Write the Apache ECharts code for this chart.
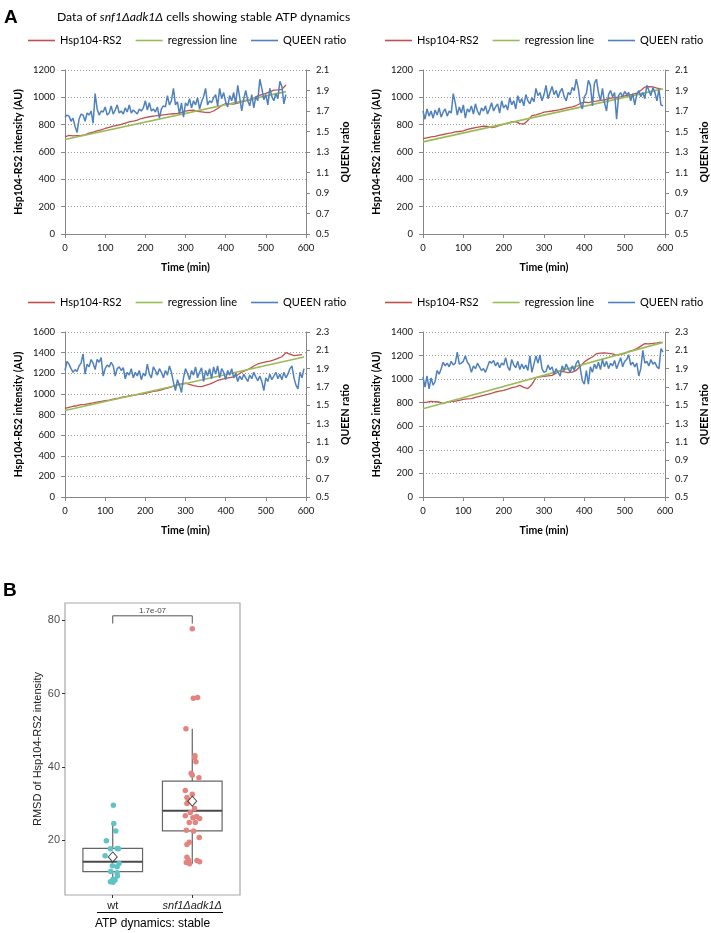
<!DOCTYPE html>
<html><head><meta charset="utf-8">
<script src="https://cdn.jsdelivr.net/npm/echarts@6/dist/echarts.min.js"></script>
<style>html,body{margin:0;padding:0;background:#fff}#c{width:711px;height:933px}</style>
</head><body><div id="c"></div>
<script>
// ---------- Panel A data ----------
const STEP_Q = 5;   // QUEEN ratio sampled every 5 min
const STEP_H = 10;  // Hsp104-RS2 sampled every 10 min
const timeTicks = [0, 100, 200, 300, 400, 500, 600];
const rightTicksTop = [0.5, 0.7, 0.9, 1.1, 1.3, 1.5, 1.7, 1.9, 2.1];
const rightTicksBottom = [0.5, 0.7, 0.9, 1.1, 1.3, 1.5, 1.7, 1.9, 2.1, 2.3];
const legendNames = ['Hsp104-RS2', 'regression line', 'QUEEN ratio'];

const tlQueen = [1.64,1.66,1.65,1.60,1.63,1.55,1.49,1.62,1.67,1.66,
  1.60,1.68,1.66,1.70,1.58,1.87,1.72,1.66,1.70,1.69,
  1.74,1.66,1.68,1.75,1.67,1.71,1.76,1.68,1.70,1.67,
  1.73,1.69,1.76,1.68,1.71,1.69,1.67,1.72,1.70,1.73,
  1.80,1.71,1.78,1.70,1.72,1.69,1.74,1.63,1.72,1.75,
  1.74,1.85,1.76,1.80,1.92,1.76,1.79,1.67,1.78,1.64,
  1.78,1.75,1.82,1.73,1.80,1.76,1.83,1.72,1.79,1.84,
  1.92,1.76,1.80,1.78,1.83,1.86,1.75,1.92,1.82,1.88,
  1.79,1.74,1.85,1.80,1.88,1.77,1.95,1.83,1.70,1.82,
  1.90,1.80,1.75,1.86,1.73,1.84,1.80,2.01,1.92,1.81,
  1.86,1.76,1.92,1.84,1.80,1.87,1.82,1.99,1.94,1.77,1.86];
const tlHsp = [710,722,718,720,722,725,738,745,755,762,772,780,789,795,803,812,820,826,833,845,
  852,858,862,866,870,874,877,880,882,890,899,904,906,898,894,890,889,900,918,940,
  955,952,950,958,967,975,980,995,1011,1020,1029,1040,1053,1055,1058,1090];
const tlRegT = [0, 550], tlRegV = [691, 1042];

const trQueen = [1.70,1.62,1.72,1.65,1.70,1.63,1.71,1.66,1.73,1.64,
  1.69,1.72,1.65,1.70,1.68,1.87,1.78,1.66,1.74,1.68,
  1.76,1.63,1.72,1.69,1.75,1.67,1.77,1.70,1.66,1.73,
  1.70,1.75,1.67,1.72,1.78,1.70,1.74,1.77,1.68,1.80,
  1.73,1.76,1.71,1.83,1.76,1.80,1.72,1.85,1.78,1.82,
  1.75,1.86,1.80,1.77,1.83,1.79,1.92,1.85,1.88,1.80,
  1.86,1.95,1.82,1.88,1.94,1.86,1.90,1.83,1.89,1.92,
  1.84,1.80,1.88,1.86,1.93,1.90,2.01,1.92,1.78,1.72,
  1.84,1.87,2.00,1.95,1.75,1.97,2.01,1.88,1.80,1.92,
  1.78,1.70,1.86,1.90,1.84,1.88,1.62,1.85,1.88,1.84,
  1.89,1.86,1.88,1.80,1.87,1.76,1.86,1.90,1.84,1.88,
  1.82,1.95,1.90,1.85,1.93,1.88,1.80,1.91,1.76,1.75];
const trHsp = [698,704,710,715,722,728,735,740,747,750,755,765,772,778,784,790,787,778,784,795,
  803,812,820,822,808,805,830,866,872,880,892,896,900,905,910,918,925,930,940,955,
  965,962,968,972,978,982,990,996,1000,1004,1010,1016,1022,1030,1050,1075,1078,1076,1068,1062];
const trRegT = [0, 595], trRegV = [674, 1062];

const blQueen = [1.88,1.98,1.95,1.90,1.86,1.89,1.87,1.93,1.96,2.06,
  1.84,1.95,1.92,2.00,1.96,1.89,2.00,1.97,2.02,1.82,
  1.90,1.94,1.92,1.97,1.93,1.82,1.90,1.92,1.88,1.91,
  1.79,1.86,1.83,1.90,1.80,1.86,1.82,1.88,1.78,1.85,
  1.82,1.95,1.84,1.80,1.92,1.88,1.83,1.90,1.86,1.80,
  1.88,1.83,1.93,1.86,1.75,1.66,1.78,1.72,1.64,1.80,
  1.90,1.85,1.78,1.88,1.83,1.92,1.80,1.86,1.91,1.76,
  1.88,1.82,1.90,1.79,1.92,1.84,1.93,1.80,1.90,1.86,
  1.78,1.88,1.83,1.90,1.80,1.85,1.76,1.82,1.78,1.84,
  1.80,1.76,1.83,1.79,1.86,1.81,1.77,1.82,1.76,1.66,
  1.80,1.76,1.84,1.78,1.82,1.86,1.79,1.84,1.78,1.86,
  1.80,1.84,1.90,1.93,1.80,1.72,1.68,1.86,1.80,1.90];
const blHsp = [860,868,880,885,895,898,905,912,920,926,935,940,950,955,965,972,980,985,992,998,
  1005,1015,1025,1030,1040,1050,1060,1075,1090,1098,1105,1092,1080,1072,1070,1082,1095,1112,1130,1140,
  1150,1158,1165,1185,1210,1228,1245,1270,1290,1300,1310,1318,1330,1345,1360,1400,1385,1370,1375,1380];
const blRegT = [0, 595], blRegV = [839, 1358];

const brQueen = [1.81,1.70,1.82,1.68,1.80,1.72,1.76,1.88,1.84,1.90,
  1.97,1.93,1.96,1.92,1.98,1.94,1.96,2.08,1.95,1.96,
  1.98,2.04,1.97,1.94,1.86,1.93,1.90,1.96,1.92,1.88,
  1.90,1.86,1.92,1.98,1.96,1.99,1.93,1.97,1.91,1.96,
  1.94,2.02,1.92,1.88,2.00,1.94,1.91,1.98,1.89,1.95,
  1.90,1.94,1.88,2.04,1.86,1.95,2.04,1.96,2.05,1.90,
  1.86,1.87,1.94,1.89,1.92,1.84,1.90,1.86,1.82,1.93,
  1.88,1.95,1.90,1.86,1.93,1.88,1.96,1.99,1.90,1.77,
  1.73,1.88,1.73,1.92,1.86,1.95,1.90,1.97,1.89,2.00,
  1.92,1.98,1.90,1.96,1.93,1.99,1.90,1.96,2.02,1.92,
  1.98,2.00,2.05,1.94,1.97,1.92,1.96,1.82,1.90,2.10,
  1.96,1.98,1.93,2.00,1.95,1.97,1.92,1.90,2.12,2.08];
const brHsp = [800,805,812,808,806,792,806,810,814,820,829,832,834,845,854,862,871,880,891,898,
  905,915,928,935,947,930,920,955,1012,1020,1024,1028,1032,1050,1069,1062,1055,1060,1075,1110,
  1145,1170,1188,1216,1220,1222,1218,1214,1202,1210,1216,1235,1244,1259,1280,1301,1300,1303,1307,1315];
const brRegT = [0, 595], brRegV = [748, 1312];

// ---------- Panel B data ----------
const groupPos = [1, 2];
const groupLabels = ['wt', 'snf1Δadk1Δ'];
const boxLow = [8.5, 13.5];
const boxQ1 = [11.4, 22.5];
const boxMed = [14.1, 28.0];
const boxQ3 = [17.7, 36.1];
const boxHigh = [24.5, 50.4];
const groupMean = [15.4, 30.6];
const wtX = [1.008,1.013,1.038,0.920,0.971,1.055,1.071,0.904,1.080,0.996,1.055,0.975,1.055,1.059,1.004,0.971,1.004,1.029];
const wtY = [29.5,24.5,22.5,19.8,17.6,17.7,17.6,15.7,13.6,13.0,12.7,11.4,11.1,10.2,9.3,8.6,8.5,9.1];
const snfX = [2.000,2.013,2.067,1.920,2.034,2.029,2.046,1.987,2.000,2.084,1.912,2.000,1.933,1.933,1.950,2.029,1.975,1.912,2.055,2.008,2.092,1.962,2.038,1.925,2.017,2.088,1.962,1.933,1.933,1.954,1.925,1.966,2.059,2.092];
const snfY = [77.7,58.7,58.9,50.4,43.0,42.5,41.4,38.2,37.7,37.0,33.5,32.5,31.6,30.0,30.9,28.6,27.5,26.6,26.4,26.1,25.9,24.8,24.8,22.7,22.5,20.7,19.4,18.8,15.3,14.5,13.9,13.5,14.4,14.1];
const yTicksB = [20, 40, 60, 80];
const bracketY = 81.2, bracketTickY = 79.1, bracketLabel = '1.7e-07';

// ---------- build ----------
const FONT = 'Lato';
const AXC = '#868686';
const panels = [
  {q: tlQueen, h: tlHsp, rt: tlRegT, rv: tlRegV, lmax: 1200, rTicks: rightTicksTop,
   grid: {left: 65, top: 70, width: 241, height: 164}, lg: {left: 28, top: 35}},
  {q: trQueen, h: trHsp, rt: trRegT, rv: trRegV, lmax: 1200, rTicks: rightTicksTop,
   grid: {left: 423, top: 70, width: 242, height: 164}, lg: {left: 385, top: 35}},
  {q: blQueen, h: blHsp, rt: blRegT, rv: blRegV, lmax: 1600, rTicks: rightTicksBottom,
   grid: {left: 65, top: 332, width: 241, height: 165}, lg: {left: 28, top: 297}},
  {q: brQueen, h: brHsp, rt: brRegT, rv: brRegV, lmax: 1400, rTicks: rightTicksBottom,
   grid: {left: 423, top: 332, width: 242, height: 165}, lg: {left: 385, top: 297}}
];
const colors = {'Hsp104-RS2': '#C0504D', 'regression line': '#9BBB59', 'QUEEN ratio': '#4F81BD'};

const grids = [], xAxes = [], yAxes = [], series = [], legends = [];
panels.forEach((p, i) => {
  grids.push(Object.assign({containLabel: false}, p.grid));
  xAxes.push({type: 'value', gridIndex: i, min: timeTicks[0], max: timeTicks[timeTicks.length - 1], interval: 100,
    axisLine: {show: true, lineStyle: {color: AXC, width: 1}},
    axisTick: {show: true, length: 4, lineStyle: {color: AXC}},
    axisLabel: {fontFamily: FONT, fontSize: 9.5, color: '#111', margin: 9, formatter: v => String(v)},
    splitLine: {show: false},
    name: 'Time (min)', nameLocation: 'middle', nameGap: 28,
    nameTextStyle: {fontFamily: FONT, fontSize: 10.5, fontWeight: 'bold', color: '#000'}});
  yAxes.push({type: 'value', gridIndex: i, position: 'left', min: 0, max: p.lmax, interval: 200,
    axisLine: {show: true, lineStyle: {color: AXC, width: 1}},
    axisTick: {show: true, length: 4, lineStyle: {color: AXC}},
    axisLabel: {fontFamily: FONT, fontSize: 9.5, color: '#111', margin: 10, formatter: v => String(v)},
    splitLine: {show: true, lineStyle: {type: [1, 2], color: '#9a9a9a', width: 1}},
    name: 'Hsp104-RS2 intensity (AU)', nameLocation: 'middle', nameGap: 41,
    nameTextStyle: {fontFamily: FONT, fontSize: 10.5, fontWeight: 'bold', color: '#000'}});
  yAxes.push({type: 'value', gridIndex: i, position: 'right', min: p.rTicks[0], max: p.rTicks[p.rTicks.length - 1],
    axisLine: {show: true, lineStyle: {color: AXC, width: 1}},
    axisTick: {show: true, length: 4, lineStyle: {color: AXC}, customValues: p.rTicks},
    axisLabel: {fontFamily: FONT, fontSize: 9.5, color: '#111', margin: 10, customValues: p.rTicks,
      formatter: v => Number(v).toFixed(1)},
    splitLine: {show: false},
    name: 'QUEEN ratio', nameLocation: 'middle', nameGap: 34,
    nameTextStyle: {fontFamily: FONT, fontSize: 10.5, fontWeight: 'bold', color: '#000'}});
  series.push({type: 'line', name: 'Hsp104-RS2', xAxisIndex: i, yAxisIndex: 2 * i,
    data: p.h.map((v, k) => [k * STEP_H, v]), symbol: 'none',
    lineStyle: {color: colors['Hsp104-RS2'], width: 1.3}, itemStyle: {color: colors['Hsp104-RS2']}, z: 2});
  series.push({type: 'line', name: 'regression line', xAxisIndex: i, yAxisIndex: 2 * i,
    data: p.rt.map((t, k) => [t, p.rv[k]]), symbol: 'none',
    lineStyle: {color: colors['regression line'], width: 1.6}, itemStyle: {color: colors['regression line']}, z: 3});
  series.push({type: 'line', name: 'QUEEN ratio', xAxisIndex: i, yAxisIndex: 2 * i + 1,
    data: p.q.map((v, k) => [k * STEP_Q, v]), symbol: 'none',
    lineStyle: {color: colors['QUEEN ratio'], width: 1.5}, itemStyle: {color: colors['QUEEN ratio']}, z: 4});
  legends.push({left: p.lg.left, top: p.lg.top, padding: 0, itemGap: 14, itemWidth: 27, itemHeight: 1.6,
    selectedMode: false, icon: 'rect',
    data: legendNames.map(n => ({name: n, icon: 'rect', itemStyle: {color: colors[n], borderWidth: 0}})),
    textStyle: {fontFamily: FONT, fontSize: 11, color: '#000'}});
});

// Panel B
const BF = 'Liberation Sans';
grids.push({left: 65, top: 603, width: 175, height: 292, show: true, borderColor: '#a8a8a8', borderWidth: 1.2, backgroundColor: '#fff'});
xAxes.push({type: 'value', gridIndex: 4, min: 0.4, max: 2.6,
  axisLine: {show: false}, splitLine: {show: false},
  axisTick: {show: true, length: 3, customValues: groupPos, lineStyle: {color: '#333'}},
  axisLabel: {customValues: groupPos, margin: 5, fontFamily: BF, fontSize: 11, color: '#1a1a1a',
    formatter: v => { const k = groupPos.indexOf(v); return k === 1 ? '{i|' + groupLabels[1] + '}' : groupLabels[0]; },
    rich: {i: {fontStyle: 'italic', fontFamily: BF, fontSize: 11, color: '#1a1a1a'}}},
  name: 'ATP dynamics: stable', nameLocation: 'middle', nameGap: 23,
  nameTextStyle: {fontFamily: BF, fontSize: 12, color: '#000'}});
yAxes.push({type: 'value', gridIndex: 4, min: 5, max: 84.7,
  axisLine: {show: false}, splitLine: {show: false},
  axisTick: {show: true, length: 3, customValues: yTicksB, lineStyle: {color: '#333'}},
  axisLabel: {customValues: yTicksB, margin: 5, fontFamily: BF, fontSize: 11, color: '#4d4d4d'},
  name: 'RMSD of Hsp104-RS2 intensity', nameLocation: 'middle', nameGap: 18,
  nameTextStyle: {fontFamily: BF, fontSize: 11, color: '#222'}});

series.push({type: 'custom', xAxisIndex: 4, yAxisIndex: 8, z: 2,
  data: groupPos.map((x, k) => [x, boxLow[k], boxQ1[k], boxMed[k], boxQ3[k], boxHigh[k]]),
  renderItem: (params, api) => {
    const x = api.value(0), half = 0.375;
    const lo = api.coord([x, api.value(1)]), q1 = api.coord([x, api.value(2)]);
    const med = api.coord([x, api.value(3)]), q3 = api.coord([x, api.value(4)]);
    const hi = api.coord([x, api.value(5)]);
    const l = api.coord([x - half, 0])[0], r = api.coord([x + half, 0])[0];
    const st = {stroke: '#666', lineWidth: 1.2, fill: null};
    return {type: 'group', children: [
      {type: 'line', shape: {x1: hi[0], y1: hi[1], x2: q3[0], y2: q3[1]}, style: st},
      {type: 'line', shape: {x1: q1[0], y1: q1[1], x2: lo[0], y2: lo[1]}, style: st},
      {type: 'rect', shape: {x: l, y: q3[1], width: r - l, height: q1[1] - q3[1]}, style: st},
      {type: 'line', shape: {x1: l, y1: med[1], x2: r, y2: med[1]}, style: {stroke: '#4a4a4a', lineWidth: 2}}
    ]};
  }});
series.push({type: 'scatter', xAxisIndex: 4, yAxisIndex: 8, z: 3, symbolSize: 5.5,
  data: wtX.map((x, k) => [x, wtY[k]]), itemStyle: {color: '#5fc3c8', opacity: 1}});
series.push({type: 'scatter', xAxisIndex: 4, yAxisIndex: 8, z: 3, symbolSize: 5.5,
  data: snfX.map((x, k) => [x, snfY[k]]), itemStyle: {color: '#e5847e', opacity: 1}});
series.push({type: 'scatter', xAxisIndex: 4, yAxisIndex: 8, z: 4, symbol: 'diamond', symbolSize: [9, 10],
  data: groupPos.map((x, k) => [x, groupMean[k]]),
  itemStyle: {color: '#fff', borderColor: '#222', borderWidth: 1}});
series.push({type: 'custom', xAxisIndex: 4, yAxisIndex: 8, z: 5,
  data: [[groupPos[0], groupPos[1], bracketY, bracketTickY]],
  renderItem: (params, api) => {
    const a = api.coord([api.value(0), api.value(3)]), b = api.coord([api.value(0), api.value(2)]);
    const c = api.coord([api.value(1), api.value(2)]), d = api.coord([api.value(1), api.value(3)]);
    return {type: 'group', children: [
      {type: 'polyline', shape: {points: [a, b, c, d]}, style: {stroke: '#555', lineWidth: 1, fill: null}},
      {type: 'text', x: (b[0] + c[0]) / 2, y: b[1] - 1.5,
        style: {text: bracketLabel, fontFamily: BF, fontSize: 8, fill: '#444', align: 'center', verticalAlign: 'bottom'}}
    ]};
  }});

const chart = echarts.init(document.getElementById('c'), null, {renderer: 'canvas'});
chart.setOption({
  animation: false,
  backgroundColor: '#fff',
  title: [
    {text: 'A', left: 4, top: 8, padding: 0, textStyle: {fontFamily: BF, fontSize: 19, fontWeight: 'bold', color: '#000'}},
    {text: 'Data of {i|snf1Δadk1Δ} cells showing stable ATP dynamics', left: 57, top: 11, padding: 0,
      textStyle: {fontFamily: FONT, fontSize: 12.2, fontWeight: 'normal', color: '#000',
        rich: {i: {fontFamily: FONT, fontSize: 12.2, fontStyle: 'italic', color: '#000'}}}},
    {text: 'B', left: 3, top: 581, padding: 0, textStyle: {fontFamily: BF, fontSize: 19, fontWeight: 'bold', color: '#000'}}
  ],
  legend: legends,
  grid: grids,
  xAxis: xAxes,
  yAxis: yAxes,
  series: series,
  graphic: [{type: 'line', shape: {x1: 97, y1: 912.5, x2: 223, y2: 912.5}, style: {stroke: '#000', lineWidth: 1}}]
});
</script>
</body></html>
